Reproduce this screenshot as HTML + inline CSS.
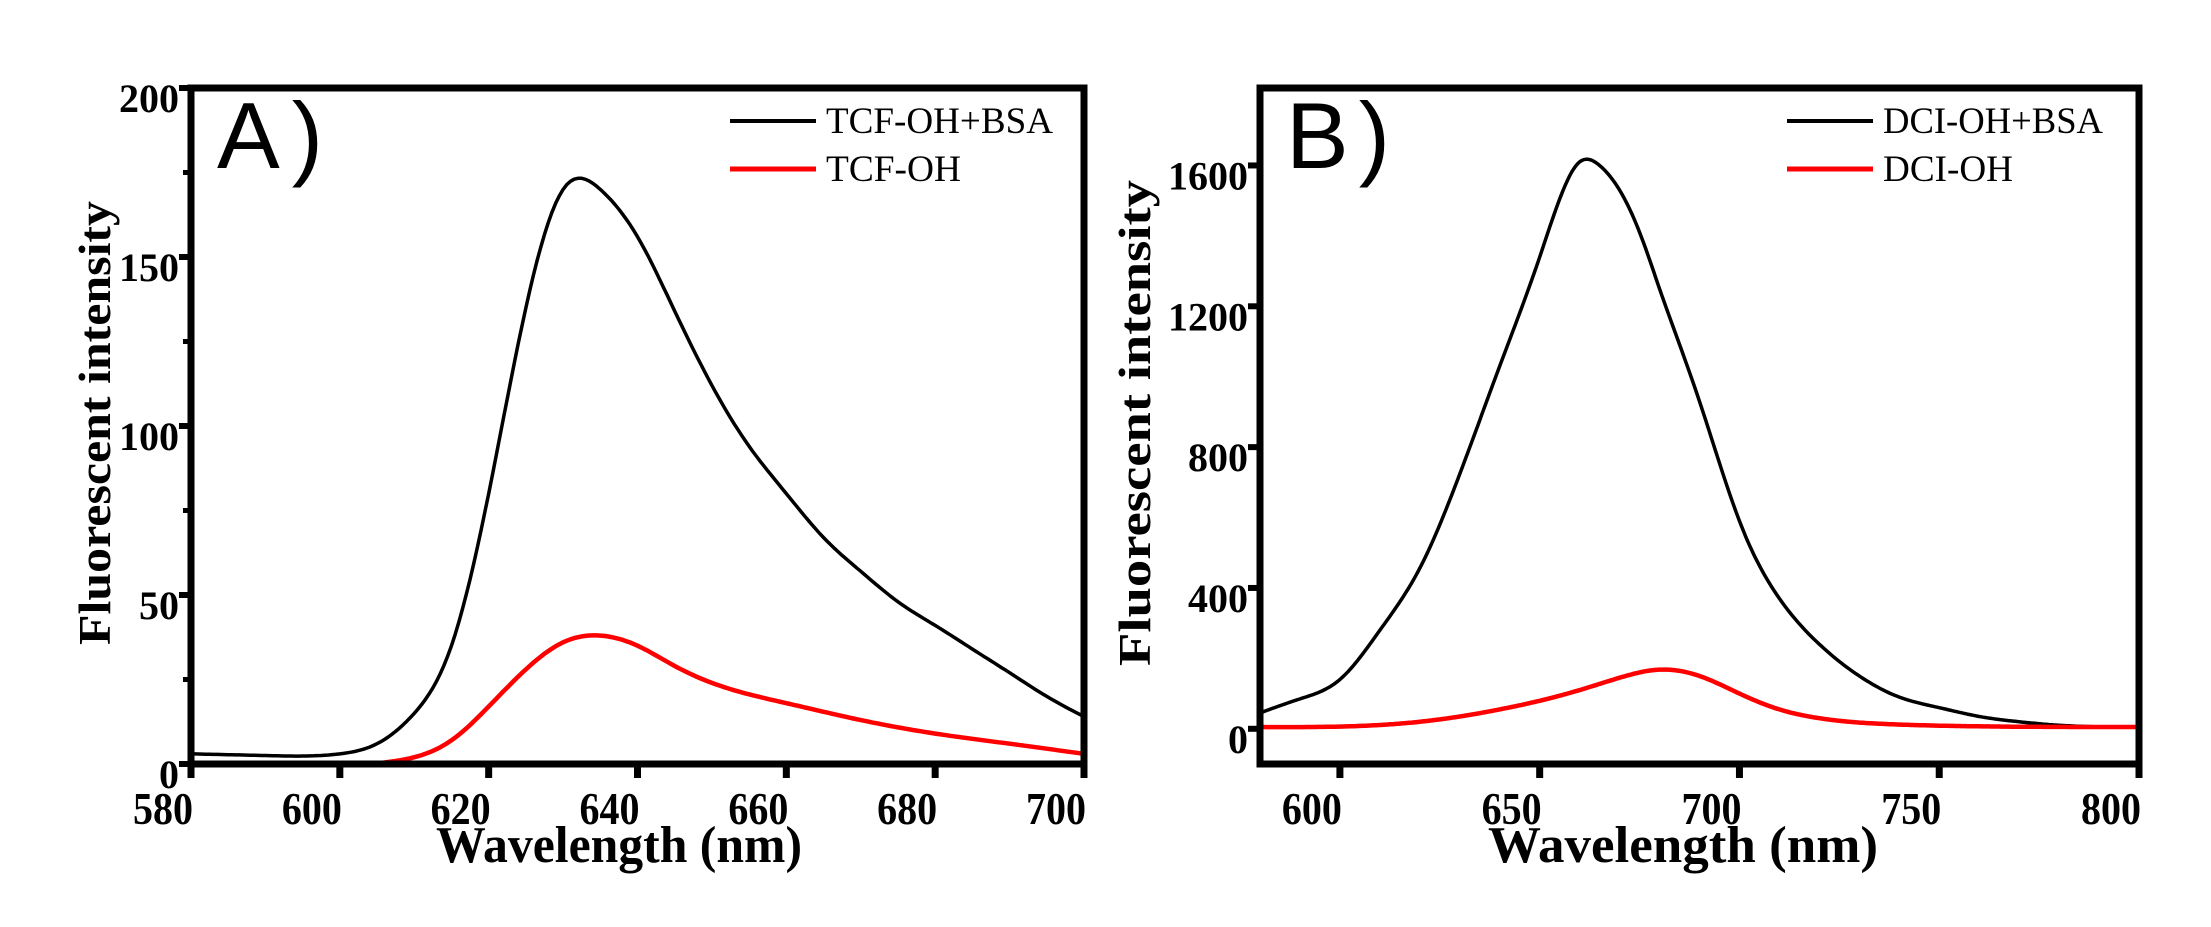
<!DOCTYPE html>
<html><head><meta charset="utf-8"><style>
html,body{margin:0;padding:0;background:#fff}
svg{display:block}
text{font-family:"Liberation Serif",serif}
</style></head><body>
<svg id="chart" width="2211" height="927" viewBox="0 0 2211 927" xmlns="http://www.w3.org/2000/svg"></svg>
<script>
// Panel A data
const aWave = [580,590,600,605,610,615,620,625,630,635,640,645,650,655,660,665,670,675,680,685,690,695,700];
const aBsa  = [3,2.5,3,6,15,35,80,135,170,170,156,134,112,94,80,67,57,48,41,34,27,20,14];
const aWave2 = [604,610,615,620,625,630,635,640,645,650,660,670,680,690,700];
const aFree  = [0,2,7,17,28,36,38,35,29,24,18,13,9,6,3];
const aXTicks = [580,600,620,640,660,680,700];
const aYTicks = [0,50,100,150,200];
// Panel B data
const bWave = [580,590,600,610,620,630,640,650,655,660,665,670,675,680,690,700,710,720,730,740,750,760,770,780,800];
const bBsa  = [45,85,140,280,456,724,1030,1340,1505,1610,1600,1530,1410,1250,930,590,370,240,150,90,60,35,20,10,5];
const bWave2 = [580,620,640,660,670,680,690,700,710,720,740,760,800];
const bFree  = [5,20,55,110,145,168,150,100,55,30,12,7,5];
const bXTicks = [600,650,700,750,800];
const bYTicks = [0,400,800,1200,1600];

const NS="http://www.w3.org/2000/svg";
const svg=document.getElementById('chart');
function mk(tag,attrs,parent){const e=document.createElementNS(NS,tag);for(const k in attrs)e.setAttribute(k,attrs[k]);(parent||svg).appendChild(e);return e;}
function spline(xs,ys){
  const n=xs.length,h=[],al=[0],l=[1],mu=[0],z=[0],c=new Array(n).fill(0),b=[],d=[];
  for(let i=0;i<n-1;i++)h.push(xs[i+1]-xs[i]);
  for(let i=1;i<n-1;i++)al.push(3/h[i]*(ys[i+1]-ys[i])-3/h[i-1]*(ys[i]-ys[i-1]));
  for(let i=1;i<n-1;i++){l[i]=2*(xs[i+1]-xs[i-1])-h[i-1]*mu[i-1];mu[i]=h[i]/l[i];z[i]=(al[i]-h[i-1]*z[i-1])/l[i];}
  for(let j=n-2;j>=0;j--){c[j]=z[j]-mu[j]*c[j+1];b[j]=(ys[j+1]-ys[j])/h[j]-h[j]*(c[j+1]+2*c[j])/3;d[j]=(c[j+1]-c[j])/(3*h[j]);}
  return x=>{let i=0;while(i<n-2&&x>xs[i+1])i++;const t=x-xs[i];return ys[i]+b[i]*t+c[i]*t*t+d[i]*t*t*t;};
}

function panel(cfg){
  const g=mk('g',{});
  
  
  const sx=v=>cfg.L+(v-cfg.x0)/(cfg.x1-cfg.x0)*(cfg.R-cfg.L);
  const sy=v=>cfg.B-(v-cfg.y0)/(cfg.y1-cfg.y0)*(cfg.B-cfg.T);
  cfg.series.forEach(s=>{
    const f=spline(s.x,s.y);const a=s.x[0],z=s.x[s.x.length-1];
    let d='';
    for(let x=a;x<=z+1e-6;x+=0.5){d+=(d?' L':'M')+sx(x).toFixed(1)+','+sy(f(x)).toFixed(1);}
    const p=mk('path',{d:d,fill:'none',stroke:s.color,'stroke-width':s.w,'stroke-linejoin':'round'},g);
    
    
  });
  const f=mk('rect',{x:cfg.L,y:cfg.T,width:cfg.R-cfg.L,height:cfg.B-cfg.T,fill:'none',stroke:'#000','stroke-width':7},g);
  
  
  cfg.xt.forEach(v=>{
    const x=sx(v);
    const t=mk('line',{x1:x,x2:x,y1:cfg.B,y2:cfg.B+14,stroke:'#000','stroke-width':7},g);
    
    
    const l=mk('text',{x:x+2,y:cfg.B+60,'text-anchor':'end','font-size':46,'font-weight':'bold',textLength:cfg.xlw,lengthAdjust:'spacingAndGlyphs'},g);
    l.textContent=String(v);
    
    
  });
  cfg.yt.forEach(v=>{
    const y=sy(v);
    const t=mk('line',{x1:cfg.L-12,x2:cfg.L,y1:y,y2:y,stroke:'#000','stroke-width':6},g);
    
    
    const l=mk('text',{x:cfg.L-12,y:y+24,'text-anchor':'end','font-size':40,'font-weight':'bold'},g);
    l.textContent=String(v);
    
    
  });
  if(cfg.minor){cfg.minor.forEach(v=>{const y=sy(v);const t=mk('line',{x1:cfg.L-8,x2:cfg.L,y1:y,y2:y,stroke:'#000','stroke-width':5},g);});}
  const xt=mk('text',{x:cfg.xtx,y:862,'font-size':52,'font-weight':'bold',textLength:cfg.xtw,lengthAdjust:'spacingAndGlyphs'},g);
  xt.textContent='Wavelength (nm)';
  
  
  const yt=mk('text',{x:0,y:0,'font-size':46,'font-weight':'bold','text-anchor':'middle',textLength:cfg.ytl,lengthAdjust:'spacingAndGlyphs',transform:'translate('+cfg.ytx+',423) rotate(-90)'},g);
  yt.textContent='Fluorescent intensity';
  
  
  const pl=mk('text',{x:cfg.L+26,y:cfg.T+80,'font-size':94,style:'font-family:"Liberation Sans",sans-serif',textLength:cfg.plw,lengthAdjust:'spacing'},g);
  pl.textContent=cfg.label;
  
  
  cfg.leg.forEach((e,i)=>{
    const y=121+i*48;
    const ln=mk('line',{x1:cfg.lx,x2:cfg.lx+86,y1:y,y2:y,stroke:e.color,'stroke-width':e.w},g);
    
    
    const tx=mk('text',{x:cfg.lx+96,y:y+12,'font-size':37,textLength:e.tw,lengthAdjust:'spacingAndGlyphs'},g);
    tx.textContent=e.text;
    
    
  });
}

panel({name:'panel-a',L:191,R:1084,T:88,B:764,x0:580,x1:700,y0:0,y1:200,xt:aXTicks,yt:aYTicks,minor:[25,75,125,175],xlw:60,
  series:[{id:'tcf-oh-bsa-line',x:aWave,y:aBsa,color:'#000',w:3.5},{id:'tcf-oh-line',x:aWave2,y:aFree,color:'#ff0000',w:4.5}],
  xtx:436,xtw:366,ytx:110,ytl:444,label:'A)',plw:106,lx:730,
  leg:[{text:'TCF-OH+BSA',color:'#000',w:4,tw:227},{text:'TCF-OH',color:'#ff0000',w:5,tw:135}]});
panel({name:'panel-b',L:1260,R:2139,T:88,B:764,x0:580,x1:800,y0:-100,y1:1820,xt:bXTicks,yt:bYTicks,xlw:60,
  series:[{id:'dci-oh-bsa-line',x:bWave,y:bBsa,color:'#000',w:3.5},{id:'dci-oh-line',x:bWave2,y:bFree,color:'#ff0000',w:4.5}],
  xtx:1488,xtw:390,ytx:1150,ytl:486,label:'B)',plw:104,lx:1787,
  leg:[{text:'DCI-OH+BSA',color:'#000',w:4,tw:220},{text:'DCI-OH',color:'#ff0000',w:5,tw:130}]});
</script>
</body></html>
